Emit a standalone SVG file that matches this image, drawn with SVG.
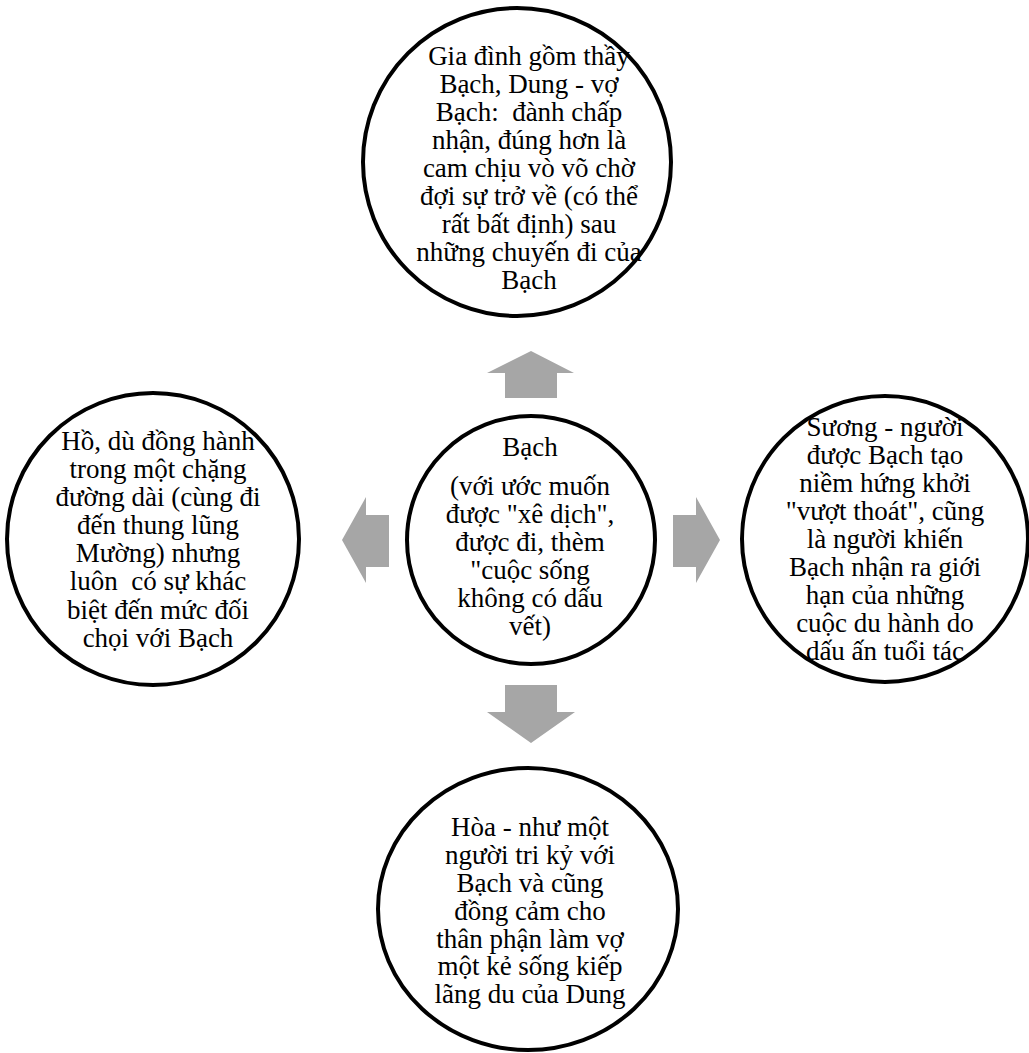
<svg xmlns="http://www.w3.org/2000/svg" width="1029" height="1053" viewBox="0 0 1029 1053">
<style>
.c{fill:#fff;stroke:#000;stroke-width:4}
.a{fill:#a6a6a6;stroke:none}
.t text{font-family:"Liberation Serif","Times New Roman",serif;font-size:27px;fill:#000;text-anchor:middle;white-space:pre}
</style>
<rect width="1029" height="1053" fill="#fff"/>
<g id="connectors">
<polygon class="a" points="531,351 574,373 557,373 557,398 505,398 505,373 487,373"/>
<polygon class="a" points="531,743 575,712 557,712 557,685 505,685 505,712 487,712"/>
<polygon class="a" points="720,540 696,583 696,567 673,567 673,515 696,515 696,497"/>
<polygon class="a" points="342,540 366,583 366,567 389,567 389,515 366,515 366,497"/>
</g>
<g id="node-top" class="t">
<circle class="c" cx="517" cy="162" r="154"/>
<text x="529" y="65">Gia đình gồm thầy</text>
<text x="529" y="93">Bạch, Dung - vợ</text>
<text x="529" y="121" xml:space="preserve">Bạch:  đành chấp</text>
<text x="529" y="149">nhận, đúng hơn là</text>
<text x="529" y="177">cam chịu vò võ chờ</text>
<text x="529" y="205">đợi sự trở về (có thể</text>
<text x="529" y="233">rất bất định) sau</text>
<text x="529" y="261">những chuyến đi của</text>
<text x="529" y="289">Bạch</text>
</g>
<g id="node-center" class="t">
<circle class="c" cx="531" cy="540" r="124"/>
<text x="530" y="456">Bạch</text>
<text x="530" y="495">(với ước muốn</text>
<text x="530" y="523">được "xê dịch",</text>
<text x="530" y="551">được đi, thèm</text>
<text x="530" y="579">"cuộc sống</text>
<text x="530" y="607">không có dấu</text>
<text x="530" y="635">vết)</text>
</g>
<g id="node-left" class="t">
<circle class="c" cx="153" cy="539" r="146"/>
<text x="158" y="450">Hồ, dù đồng hành</text>
<text x="158" y="478">trong một chặng</text>
<text x="158" y="506">đường dài (cùng đi</text>
<text x="158" y="534">đến thung lũng</text>
<text x="158" y="562">Mường) nhưng</text>
<text x="158" y="590" xml:space="preserve">luôn  có sự khác</text>
<text x="158" y="619">biệt đến mức đối</text>
<text x="158" y="647">chọi với Bạch</text>
</g>
<g id="node-right" class="t">
<circle class="c" cx="885" cy="539" r="143"/>
<text x="885" y="436">Sương - người</text>
<text x="885" y="464">được Bạch tạo</text>
<text x="885" y="492">niềm hứng khởi</text>
<text x="885" y="520">"vượt thoát", cũng</text>
<text x="885" y="548">là người khiến</text>
<text x="885" y="576">Bạch nhận ra giới</text>
<text x="885" y="604">hạn của những</text>
<text x="885" y="632">cuộc du hành do</text>
<text x="885" y="660">dấu ấn tuổi tác</text>
</g>
<g id="node-bottom" class="t">
<ellipse class="c" cx="528" cy="909" rx="150" ry="141"/>
<text x="530" y="836">Hòa - như một</text>
<text x="530" y="864">người tri kỷ với</text>
<text x="530" y="892">Bạch và cũng</text>
<text x="530" y="920">đồng cảm cho</text>
<text x="530" y="948">thân phận làm vợ</text>
<text x="530" y="975">một kẻ sống kiếp</text>
<text x="530" y="1003">lãng du của Dung</text>
</g>
</svg>
